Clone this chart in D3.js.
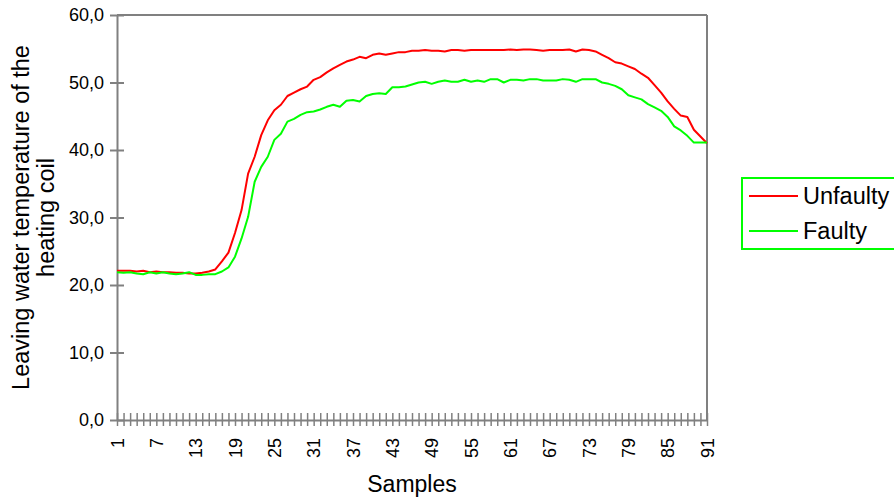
<!DOCTYPE html>
<html>
<head>
<meta charset="utf-8">
<script src="https://cdn.jsdelivr.net/npm/d3@7"></script>
<style>
  html, body { margin: 0; padding: 0; background: #fff; }
  svg { display: block; font-family: "Liberation Sans", Arial, sans-serif; }
</style>
</head>
<body>
<svg id="chart" width="894" height="500"></svg>
<script>
const seriesNames = ["Unfaulty", "Faulty"];
const seriesColors = ["#ff0000", "#00ff00"];

const unfaulty = [
  22.1, 22.1, 22.1, 22.0, 22.1, 21.9, 22.0, 21.9, 21.9, 21.8,
  21.8, 21.7, 21.7, 21.8, 22.0, 22.3, 23.5, 24.8, 27.7, 31.1,
  36.5, 39.0, 42.2, 44.4, 45.9, 46.7, 48.0, 48.5, 49.0, 49.4,
  50.4, 50.8, 51.5, 52.1, 52.6, 53.1, 53.4, 53.8, 53.6, 54.1,
  54.3, 54.1, 54.3, 54.5, 54.5, 54.7, 54.7, 54.8, 54.7, 54.7,
  54.6, 54.8, 54.8, 54.7, 54.8, 54.8, 54.8, 54.8, 54.8, 54.8,
  54.9, 54.8, 54.9, 54.9, 54.8, 54.7, 54.8, 54.8, 54.8, 54.9,
  54.6, 54.9, 54.8, 54.6, 54.1, 53.6, 53.0, 52.8, 52.4, 52.0,
  51.3, 50.7, 49.6, 48.5, 47.2, 46.1, 45.1, 44.9, 43.0, 42.0,
  41.0
];

const faulty = [
  21.9, 21.8, 21.9, 21.7, 21.6, 21.9, 21.7, 21.9, 21.7, 21.6,
  21.7, 21.9, 21.5, 21.5, 21.6, 21.6, 22.0, 22.6, 24.2, 26.9,
  30.1, 35.3, 37.5, 39.0, 41.5, 42.4, 44.2, 44.6, 45.2, 45.6,
  45.7, 46.0, 46.4, 46.7, 46.4, 47.3, 47.4, 47.2, 48.0, 48.3,
  48.4, 48.3, 49.3, 49.3, 49.4, 49.7, 50.0, 50.1, 49.8, 50.1,
  50.3, 50.1, 50.1, 50.4, 50.1, 50.3, 50.1, 50.5, 50.5, 50.0,
  50.4, 50.4, 50.3, 50.5, 50.5, 50.3, 50.3, 50.3, 50.5, 50.4,
  50.1, 50.5, 50.5, 50.5, 50.0, 49.8, 49.5, 49.0, 48.1, 47.8,
  47.5, 46.8, 46.3, 45.8, 44.9, 43.5, 42.9, 42.1, 41.1, 41.1,
  41.1
];

const samples = d3.range(1, 92);
const xTickLabels = ["1","7","13","19","25","31","37","43","49","55","61","67","73","79","85","91"];
const yTickValues = [0, 10, 20, 30, 40, 50, 60];
const yTickLabels = ["0,0","10,0","20,0","30,0","40,0","50,0","60,0"];
const xTitle = "Samples";
const yTitleLines = ["Leaving water temperature of the", "heating coil"];

const svg = d3.select("#chart");
const mLeft = 117, mRight = 707, mTop = 15, mBottom = 420;
const axisColor = "#808080";

const x = d3.scalePoint().domain(samples).range([mLeft, mRight]);
const y = d3.scaleLinear().domain([0, 60]).range([mBottom, mTop]);

// plot frame (top and right)
svg.append("line").attr("x1", mLeft).attr("x2", mRight).attr("y1", mTop).attr("y2", mTop)
  .attr("stroke", axisColor).attr("stroke-width", 2);
svg.append("line").attr("x1", mRight).attr("x2", mRight).attr("y1", mTop).attr("y2", mBottom)
  .attr("stroke", axisColor).attr("stroke-width", 2);

// y axis
const yAxis = d3.axisLeft(y).tickValues(yTickValues)
  .tickFormat((d, i) => yTickLabels[i]).tickSizeInner(7).tickSizeOuter(0).tickPadding(6);
const gy = svg.append("g").attr("transform", `translate(${mLeft},0)`).call(yAxis);
gy.select(".domain").attr("stroke", axisColor).attr("stroke-width", 2);
gy.selectAll(".tick line").attr("stroke", axisColor).attr("stroke-width", 2).attr("x1", 7);
gy.selectAll(".tick text").attr("font-size", 18).attr("fill", "#000")
  .attr("font-family", "Liberation Sans, Arial, sans-serif");

// x axis
const xAxis = d3.axisBottom(x).tickValues(samples)
  .tickFormat(d => xTickLabels.includes(String(d)) ? String(d) : "")
  .tickSizeInner(6).tickSizeOuter(0);
const gx = svg.append("g").attr("transform", `translate(0,${mBottom})`).call(xAxis);
gx.select(".domain").attr("stroke", axisColor).attr("stroke-width", 2);
gx.selectAll(".tick line").attr("stroke", axisColor).attr("stroke-width", 1.5).attr("y1", -7);
gx.selectAll(".tick text")
  .attr("font-size", 18).attr("fill", "#000")
  .attr("font-family", "Liberation Sans, Arial, sans-serif")
  .attr("text-anchor", "end")
  .attr("transform", "translate(0,18) rotate(-90)")
  .attr("x", 0).attr("y", 0).attr("dy", "0.35em");

// lines
const line = d3.line().x((d, i) => x(samples[i])).y(d => y(d));
[unfaulty, faulty].forEach((s, k) => {
  svg.append("path").datum(s).attr("d", line)
    .attr("fill", "none").attr("stroke", seriesColors[k]).attr("stroke-width", 2)
    .attr("stroke-linejoin", "round");
});

// x title
svg.append("text").attr("x", (mLeft + mRight) / 2).attr("y", 492)
  .attr("text-anchor", "middle").attr("font-size", 23).text(xTitle);

// y title
const yt = svg.append("text").attr("transform", `translate(0,${(mTop + mBottom) / 2}) rotate(-90)`)
  .attr("text-anchor", "middle").attr("font-size", 23.5);
yTitleLines.forEach((t, i) => {
  yt.append("tspan").attr("x", 0).attr("y", 29 + i * 25).text(t);
});

// legend
const lg = svg.append("g");
lg.append("rect").attr("x", 742).attr("y", 178).attr("width", 160).attr("height", 71)
  .attr("fill", "#fff").attr("stroke", "#00ff00").attr("stroke-width", 2);
seriesNames.forEach((n, i) => {
  const ly = 196 + i * 35;
  lg.append("line").attr("x1", 749).attr("x2", 798).attr("y1", ly).attr("y2", ly)
    .attr("stroke", seriesColors[i]).attr("stroke-width", 2);
  lg.append("text").attr("x", 803).attr("y", ly + 8).attr("font-size", 23.5).text(n);
});
</script>
</body>
</html>
